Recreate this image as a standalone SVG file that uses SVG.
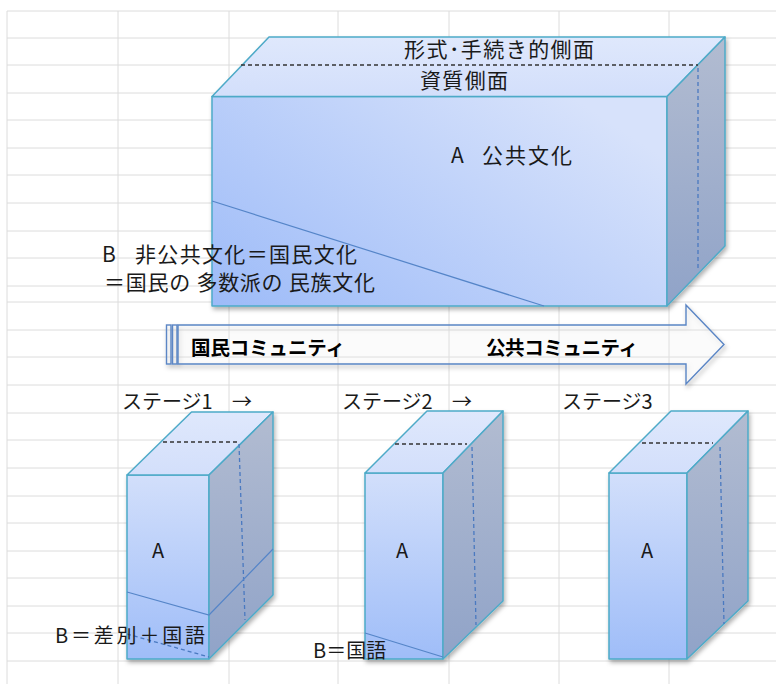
<svg xmlns="http://www.w3.org/2000/svg" width="776" height="684" viewBox="0 0 776 684">
<defs>
<style>
.grid{stroke:#dcdcdc;stroke-width:1;fill:none}
.edge{stroke:#4eaac8;stroke-width:1.5;stroke-linejoin:round}
.top{fill:url(#gTop)}
.side{fill:url(#gSide)}
.dk{stroke:#333;stroke-width:1.3;stroke-dasharray:4 3;fill:none}
.db{stroke:#4a79c0;stroke-width:1.3;stroke-dasharray:4 3;fill:none}
.ln{stroke:#5585c8;stroke-width:1.2;fill:none}
.t{font-family:"Noto Sans CJK JP","Noto Sans",sans-serif;fill:#1a1a1a}
.b{font-weight:bold;fill:#000}
</style>
<linearGradient id="gBig" x1="0" y1="1" x2="1" y2="0.3">
<stop offset="0" stop-color="#9dbbf8"/>
<stop offset="1" stop-color="#d7e2fb"/>
</linearGradient>
<linearGradient id="gFront" x1="0" y1="0" x2="0" y2="1">
<stop offset="0" stop-color="#d2dffb"/>
<stop offset="1" stop-color="#9fbdf8"/>
</linearGradient>
<linearGradient id="gTop" x1="0" y1="0" x2="0" y2="1">
<stop offset="0" stop-color="#dfe8fc"/>
<stop offset="1" stop-color="#d3dffb"/>
</linearGradient>
<linearGradient id="gSide" x1="0" y1="0" x2="0" y2="1">
<stop offset="0" stop-color="#b2bcd1"/>
<stop offset="1" stop-color="#90a3c8"/>
</linearGradient>
<filter id="sh" x="-10%" y="-10%" width="130%" height="130%">
<feDropShadow dx="1.5" dy="3" stdDeviation="2" flood-color="#000" flood-opacity="0.3"/>
</filter>
</defs>
<rect width="776" height="684" fill="#fff"/>
<g id="grid">
<path class="grid" d="M7,11V684M118,11V684M229,11V684M338,11V684M449,11V684M559,11V684M669,11V684"/>
<path class="grid" d="M7,11H776M7,38H776M7,65H776M7,93H776M7,120H776M7,148H776M7,175H776M7,203H776M7,231H776M7,258H776M7,286H776M7,302H776M7,330H776M7,357H776M7,385H776M7,413H776M7,440H776M7,468H776M7,496H776M7,523H776M7,551H776M7,578H776M7,606H776M7,633H776M7,661H776"/>
</g>
<g id="bigBox">
<g filter="url(#sh)">
<path class="edge" d="M212,96.5H667V306H212Z" fill="url(#gBig)"/>
<path class="edge top" d="M212,96.5L269,37H725L667,96.5Z"/>
<path class="edge side" d="M667,96.5L725,37V246L667,306Z"/>
</g>
<path class="dk" d="M241,65H698"/>
<path class="db" d="M698,68V270"/>
<path class="ln" d="M212,201L544,306"/>
<text class="t" x="404" y="57" font-size="21" textLength="190" lengthAdjust="spacing">形式･手続き的側面</text>
<text class="t" x="420" y="88" font-size="21" textLength="88" lengthAdjust="spacing">資質側面</text>
<text class="t" x="451" y="163" font-size="21">A</text>
<text class="t" x="482" y="163" font-size="21" textLength="90" lengthAdjust="spacing">公共文化</text>
</g>
<g id="labelB">
<text class="t" x="102" y="262" font-size="21">B</text>
<text class="t" x="135" y="262" font-size="21" textLength="222" lengthAdjust="spacing">非公共文化＝国民文化</text>
<text class="t" x="104" y="290" font-size="21" textLength="271" lengthAdjust="spacing">＝国民の 多数派の 民族文化</text>
</g>
<g id="arrow">
<g filter="url(#sh)">
<path d="M178,325H686V305L724,344.5L686,384V364H178Z" fill="#fff" fill-opacity="0.15" stroke="#5b86c5" stroke-width="1.4" stroke-linejoin="miter"/>
<rect x="166.5" y="325" width="4.5" height="39" fill="#fff" fill-opacity="0.15" stroke="#5b86c5" stroke-width="1.4"/>
<rect x="172.5" y="325" width="4.5" height="39" fill="#fff" fill-opacity="0.15" stroke="#5b86c5" stroke-width="1.4"/>
</g>
<text class="t b" x="191" y="355" font-size="19.5" textLength="154" lengthAdjust="spacing">国民コミュニティ</text>
<text class="t b" x="486" y="355" font-size="19.5" textLength="152" lengthAdjust="spacing">公共コミュニティ</text>
</g>
<g id="stage1">
<g filter="url(#sh)">
<path class="edge" d="M127,475H209V659H127Z" fill="url(#gFront)"/>
<path class="edge top" d="M127,475L191.5,412H273L209,475Z"/>
<path class="edge side" d="M209,475L273,412V595L209,659Z"/>
</g>
<path class="dk" d="M163,442H238"/>
<path class="db" d="M239,444L245,620"/>
<path class="ln" d="M127,592L209,615L273,549"/>
<path class="db" d="M127,634L209,657"/>
<text class="t" x="158" y="558" font-size="20" text-anchor="middle">A</text>
<text class="t" x="122" y="409" font-size="20">ステージ1</text>
<text class="t" x="232" y="409" font-size="20">→</text>
<text class="t" x="55" y="643" font-size="20" textLength="150" lengthAdjust="spacing">B＝差別＋国語</text>
</g>
<g id="stage2">
<g filter="url(#sh)">
<path class="edge" d="M365,473H443V659H365Z" fill="url(#gFront)"/>
<path class="edge top" d="M365,473L427,411H503L443,473Z"/>
<path class="edge side" d="M443,473L503,411V601L443,659Z"/>
</g>
<path class="dk" d="M395,444H467"/>
<path class="db" d="M472,447L476,625"/>
<path class="ln" d="M365,633L443,657"/>
<text class="t" x="402" y="558" font-size="20" text-anchor="middle">A</text>
<text class="t" x="342" y="409" font-size="20">ステージ2</text>
<text class="t" x="452" y="409" font-size="20">→</text>
<text class="t" x="313" y="658" font-size="20">B＝国語</text>
</g>
<g id="stage3">
<g filter="url(#sh)">
<path class="edge" d="M609,473H687V659H609Z" fill="url(#gFront)"/>
<path class="edge top" d="M609,473L671,411H748L687,473Z"/>
<path class="edge side" d="M687,473L748,411V601L687,659Z"/>
</g>
<path class="dk" d="M642,443H713"/>
<path class="db" d="M720,447L724,624"/>
<text class="t" x="647" y="558" font-size="20" text-anchor="middle">A</text>
<text class="t" x="562" y="409" font-size="20">ステージ3</text>
</g>
</svg>
